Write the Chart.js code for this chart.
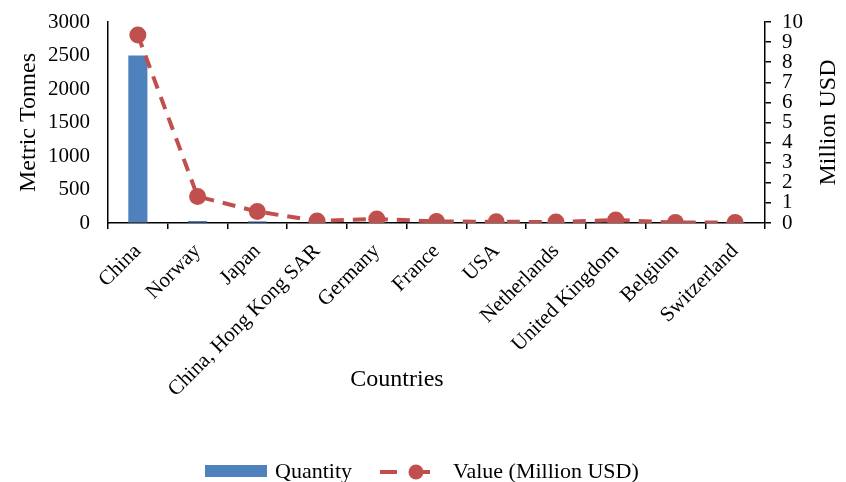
<!DOCTYPE html>
<html><head><meta charset="utf-8">
<script src="https://cdn.jsdelivr.net/npm/chart.js@4.4.1/dist/chart.umd.min.js"></script>
<style>
html,body{margin:0;padding:0;background:#fff;}
#wrap{position:relative;width:846px;height:482px;overflow:hidden;}
canvas{display:block;}
.lg{position:absolute;font-family:"Liberation Serif","Times New Roman",serif;font-size:22px;line-height:22px;color:#000;white-space:nowrap;}
</style></head><body>
<div id="wrap">
<canvas id="c" width="846" height="482"></canvas>
<div style="position:absolute;left:205px;top:465px;width:62px;height:12px;background:#4F81BD;"></div>
<div class="lg" style="left:275px;top:460px;">Quantity</div>
<svg style="position:absolute;left:376px;top:463px;" width="60" height="18">
  <line x1="4" y1="9" x2="21" y2="9" stroke="#C0504D" stroke-width="4"/>
  <line x1="46" y1="9" x2="54" y2="9" stroke="#C0504D" stroke-width="4"/>
  <circle cx="40" cy="9" r="7.5" fill="#C0504D"/>
</svg>
<div class="lg" style="left:453px;top:460px;">Value (Million USD)</div>
</div>
<script>
const categories = ['China','Norway','Japan','China, Hong Kong SAR','Germany','France','USA','Netherlands','United Kingdom','Belgium','Switzerland'];
const quantityTonnes = [2500, 30, 25, 5, 4, 3, 3, 2, 3, 1, 1];
const valueMillionUSD = [9.35, 1.32, 0.57, 0.10, 0.20, 0.08, 0.06, 0.05, 0.15, 0.02, 0.02];
const leftAxisTitle = 'Metric Tonnes';
const rightAxisTitle = 'Million USD';
const xAxisTitle = 'Countries';
const seriesNames = ['Quantity', 'Value (Million USD)'];

const FONT = '"Liberation Serif", "Times New Roman", serif';

const titlesPlugin = {
  id: 'titlesPlugin',
  afterDraw(chart) {
    const ctx = chart.ctx;
    ctx.save();
    ctx.font = '24px ' + FONT;
    ctx.fillStyle = '#000';
    ctx.textAlign = 'center';
    ctx.textBaseline = 'middle';
    ctx.fillText(xAxisTitle, 397, 380);
    const ca = chart.chartArea;
    ctx.translate(829, (ca.top + ca.bottom) / 2);
    ctx.rotate(-Math.PI / 2);
    ctx.fillText(rightAxisTitle, 0, 0);
    ctx.restore();
  }
};

new Chart(document.getElementById('c'), {
  data: {
    labels: categories,
    datasets: [
      {
        type: 'line', label: seriesNames[1], data: valueMillionUSD, yAxisID: 'y1',
        borderColor: '#C0504D', borderWidth: 4, borderDash: [13, 9],
        pointRadius: 8.5, pointHoverRadius: 8.5, pointBackgroundColor: '#C0504D', pointBorderWidth: 0,
        tension: 0, order: 1
      },
      {
        type: 'bar', label: seriesNames[0], data: quantityTonnes, yAxisID: 'y',
        backgroundColor: '#4F81BD', barPercentage: 0.32, categoryPercentage: 1, order: 2
      }
    ]
  },
  options: {
    responsive: false, animation: false, devicePixelRatio: 1,
    layout: { padding: { top: 22, bottom: 84, left: 0, right: 0 } },
    plugins: { legend: { display: false }, tooltip: { enabled: false } },
    scales: {
      x: {
        type: 'category', offset: true,
        grid: { offset: true, drawOnChartArea: false, drawTicks: true, tickLength: 6, color: '#000', tickColor: '#000', lineWidth: 1.5 },
        border: { color: '#000', width: 1.5 },
        ticks: { minRotation: 45, maxRotation: 45, autoSkip: false, color: '#000', padding: 10, font: { family: FONT, size: 21 } },
        afterFit: s => { s.height = 175; }
      },
      y: {
        position: 'left', min: 0, max: 3000,
        ticks: { stepSize: 500, color: '#000', padding: 10, font: { family: FONT, size: 21, lineHeight: 1 }, callback: v => String(v) },
        grid: { drawOnChartArea: false, drawTicks: true, tickLength: 8, tickColor: 'rgba(0,0,0,0)' },
        border: { color: '#000', width: 1.5 },
        title: { display: true, text: leftAxisTitle, color: '#000', font: { family: FONT, size: 24 }, padding: { top: 14, bottom: 0 } },
        afterFit: s => { s.width = 108; }
      },
      y1: {
        position: 'right', min: 0, max: 10,
        ticks: { stepSize: 1, autoSkip: false, color: '#000', padding: 11, font: { family: FONT, size: 21, lineHeight: 1 } },
        grid: { drawOnChartArea: false, drawTicks: true, tickLength: 6, color: '#000', tickColor: '#000', lineWidth: 1.5 },
        border: { color: '#000', width: 1.5 },
        afterFit: s => { s.width = 81; }
      }
    }
  },
  plugins: [titlesPlugin]
});
</script>
</body></html>
